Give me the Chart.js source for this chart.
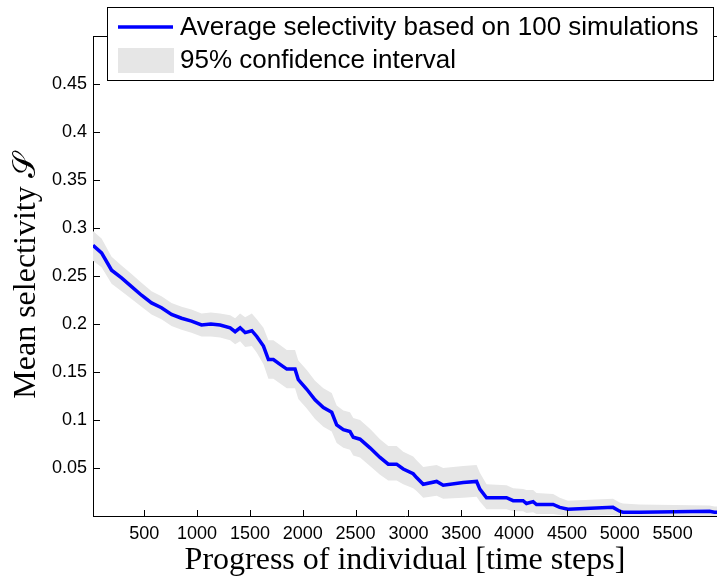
<!DOCTYPE html>
<html>
<head>
<meta charset="utf-8">
<script src="https://cdn.jsdelivr.net/npm/chart.js@4.4.1/dist/chart.umd.min.js"></script>
<style>
  html, body { margin: 0; padding: 0; background: #fff; }
  #wrap { width: 717px; height: 577px; }
</style>
</head>
<body>
<div id="wrap"><canvas id="selectivityChart" width="717" height="577"></canvas></div>
<script>
// time steps (x) and the mean selectivity
const steps = [15, 96, 191, 285, 380, 474, 569, 663, 758, 853, 947, 1042, 1130, 1218, 1313, 1360, 1407, 1455, 1518, 1565,
  1628, 1675, 1722, 1785, 1849, 1927, 1958, 2038, 2116, 2195, 2274, 2321, 2384, 2447, 2478, 2542, 2636, 2731, 2809, 2888,
  2951, 3045, 3077, 3140, 3267, 3329, 3518, 3645, 3676, 3739, 3928, 3991, 4085, 4117, 4180, 4212, 4369, 4432, 4510, 4936,
  4999, 5030, 5188, 5849, 5896, 5920];
const meanSelectivity = [0.282, 0.274, 0.256, 0.248, 0.239, 0.230, 0.222, 0.217, 0.210, 0.206, 0.203, 0.199, 0.200, 0.199, 0.196, 0.192, 0.196, 0.191, 0.193, 0.187,
  0.177, 0.163, 0.163, 0.158, 0.153, 0.153, 0.142, 0.132, 0.121, 0.113, 0.108, 0.095, 0.090, 0.088, 0.082, 0.080, 0.071, 0.061, 0.054, 0.054,
  0.049, 0.044, 0.040, 0.033, 0.036, 0.032, 0.035, 0.036, 0.028, 0.019, 0.019, 0.016, 0.016, 0.013, 0.015, 0.012, 0.012, 0.009, 0.007, 0.009,
  0.005, 0.004, 0.004, 0.005, 0.004, 0.004];
// 95% confidence interval bounds
const ciLower = [0.266, 0.259, 0.242, 0.234, 0.226, 0.218, 0.210, 0.205, 0.198, 0.194, 0.191, 0.187, 0.187, 0.186, 0.183, 0.179, 0.182, 0.176, 0.177, 0.170,
  0.158, 0.143, 0.143, 0.138, 0.133, 0.133, 0.122, 0.112, 0.101, 0.093, 0.088, 0.076, 0.071, 0.069, 0.063, 0.061, 0.052, 0.043, 0.037, 0.037,
  0.033, 0.029, 0.026, 0.019, 0.021, 0.018, 0.019, 0.020, 0.015, 0.007, 0.007, 0.005, 0.005, 0.003, 0.004, 0.002, 0.002, 0.001, 0.000, 0.001,
  0.000, 0.000, 0.000, 0.000, 0.000, 0.000];
const ciUpper = [0.297, 0.289, 0.270, 0.261, 0.252, 0.243, 0.234, 0.229, 0.222, 0.218, 0.215, 0.211, 0.212, 0.211, 0.209, 0.206, 0.211, 0.207, 0.211, 0.205,
  0.196, 0.183, 0.183, 0.178, 0.173, 0.173, 0.162, 0.152, 0.141, 0.133, 0.128, 0.115, 0.110, 0.108, 0.102, 0.100, 0.091, 0.080, 0.073, 0.073,
  0.067, 0.062, 0.058, 0.051, 0.053, 0.050, 0.052, 0.053, 0.045, 0.033, 0.032, 0.029, 0.028, 0.027, 0.027, 0.024, 0.023, 0.019, 0.016, 0.018,
  0.014, 0.013, 0.012, 0.011, 0.010, 0.010];

const xTickValues = [500, 1000, 1500, 2000, 2500, 3000, 3500, 4000, 4500, 5000, 5500];
const yTickValues = [0.05, 0.1, 0.15, 0.2, 0.25, 0.3, 0.35, 0.4, 0.45];

const lineColor = '#0000ff';
const bandColor = '#e6e6e6';

function toPoints(ys) {
  return steps.map((x, i) => ({ x: x, y: ys[i] }));
}

// MATLAB style frame: top spine and inward tick marks
const matlabFrame = {
  id: 'matlabFrame',
  afterDraw(chart) {
    const { ctx, chartArea, scales } = chart;
    ctx.save();
    ctx.strokeStyle = '#000';
    ctx.lineWidth = 1;
    ctx.beginPath();
    ctx.moveTo(chartArea.left, chartArea.top + 0.5);
    ctx.lineTo(chartArea.right, chartArea.top + 0.5);
    scales.x.ticks.forEach(t => {
      const px = Math.round(scales.x.getPixelForValue(t.value)) + 0.5;
      ctx.moveTo(px, chartArea.bottom);
      ctx.lineTo(px, chartArea.bottom - 6);
    });
    scales.y.ticks.forEach(t => {
      const py = Math.round(scales.y.getPixelForValue(t.value)) + 0.5;
      ctx.moveTo(chartArea.left, py);
      ctx.lineTo(chartArea.left + 7, py);
    });
    ctx.stroke();
    ctx.restore();
  }
};

// legend box drawn over the top edge like the original
const boxLegend = {
  id: 'boxLegend',
  afterDraw(chart) {
    const ctx = chart.ctx;
    const ds = chart.data.datasets;
    ctx.save();
    ctx.fillStyle = '#fff';
    ctx.fillRect(107, 7, 607, 74);
    ctx.strokeStyle = '#000';
    ctx.lineWidth = 1;
    ctx.strokeRect(107.5, 7.5, 606, 73);
    ctx.strokeStyle = lineColor;
    ctx.lineWidth = 3.5;
    ctx.beginPath();
    ctx.moveTo(118, 27);
    ctx.lineTo(173, 27);
    ctx.stroke();
    ctx.fillStyle = bandColor;
    ctx.fillRect(118, 48, 56, 25);
    ctx.fillStyle = '#000';
    ctx.font = '26px "Liberation Sans", Arial, sans-serif';
    ctx.textBaseline = 'middle';
    ctx.textAlign = 'left';
    ctx.fillText(ds[0].label, 180, 28);
    ctx.fillText(ds[2].label, 180, 61);
    ctx.restore();
  }
};

const canvas = document.getElementById('selectivityChart');
const ctx = canvas.getContext('2d');

const chart = new Chart(ctx, {
  type: 'line',
  data: {
    datasets: [
      {
        label: 'Average selectivity based on 100 simulations',
        data: toPoints(meanSelectivity),
        borderColor: lineColor,
        borderWidth: 3.5,
        pointRadius: 0,
        tension: 0,
        fill: false,
      },
      {
        label: 'ci lower',
        data: toPoints(ciLower),
        borderWidth: 0,
        borderColor: 'rgba(0,0,0,0)',
        pointRadius: 0,
        fill: false,
      },
      {
        label: '95% confidence interval',
        data: toPoints(ciUpper),
        borderWidth: 0,
        borderColor: 'rgba(0,0,0,0)',
        backgroundColor: bandColor,
        pointRadius: 0,
        fill: '-1',
      },
    ],
  },
  options: {
    responsive: false,
    animation: false,
    layout: { padding: { top: 36, right: 0, bottom: 0, left: 0 } },
    plugins: {
      legend: { display: false },
      tooltip: { enabled: false },
    },
    scales: {
      x: {
        type: 'linear',
        min: 15,
        max: 5920,
        afterBuildTicks: s => { s.ticks = xTickValues.map(v => ({ value: v })); },
        afterFit: s => { s.height = 61; },
        grid: { display: false, drawTicks: false },
        border: { display: true, color: '#000', width: 1 },
        ticks: {
          color: '#000',
          padding: 7,
          maxRotation: 0,
          autoSkip: false,
          font: { family: '"Liberation Sans", Arial, sans-serif', size: 18 },
          callback: v => String(v),
        },
        title: {
          display: true,
          text: 'Progress of individual [time steps]',
          color: '#000',
          font: { family: '"Liberation Serif", "Times New Roman", serif', size: 32, lineHeight: 1 },
          padding: { top: 0, bottom: 0 },
        },
      },
      y: {
        min: 0,
        max: 0.5,
        afterBuildTicks: s => { s.ticks = yTickValues.map(v => ({ value: v })); },
        afterFit: s => { s.width = 93; },
        grid: { display: false, drawTicks: false },
        border: { display: true, color: '#000', width: 1 },
        ticks: {
          color: '#000',
          padding: 6,
          font: { family: '"Liberation Sans", Arial, sans-serif', size: 18 },
          callback: v => String(+v.toFixed(2)),
        },
        title: {
          display: true,
          text: 'Mean selectivity 𝒮',
          color: '#000',
          font: { family: '"Liberation Serif", "Times New Roman", serif', size: 32, lineHeight: 1 },
          padding: { top: 11, bottom: 0 },
        },
      },
    },
  },
  plugins: [matlabFrame, boxLegend],
});
</script>
</body>
</html>
